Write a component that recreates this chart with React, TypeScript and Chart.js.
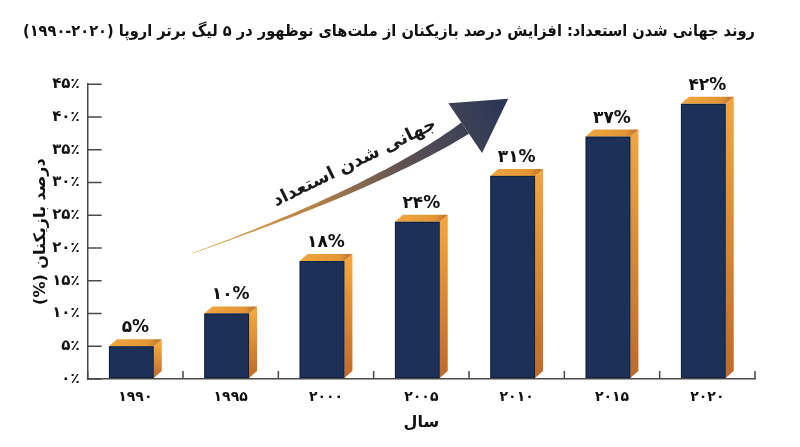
import React, { useEffect, useRef } from 'react';
import { Chart } from 'chart.js/auto';

const years = ['۱۹۹۰', '۱۹۹۵', '۲۰۰۰', '۲۰۰۵', '۲۰۱۰', '۲۰۱۵', '۲۰۲۰'];
const shares = [5, 10, 18, 24, 31, 37, 42];
const shareLabels = ['۵%', '۱۰%', '۱۸%', '۲۴%', '۳۱%', '۳۷%', '۴۲%'];
const yTickLabels = ['۰٪', '۵٪', '۱۰٪', '۱۵٪', '۲۰٪', '۲۵٪', '۳۰٪', '۳۵٪', '۴۰٪', '۴۵٪'];

// LRM marks keep the year range reading left to right inside the RTL title
const titleText = 'روند جهانی شدن استعداد: افزایش درصد بازیکنان از ملت‌های نوظهور در ۵ لیگ برتر اروپا (\u200E۱۹۹۰-۲۰۲۰\u200E)';
const xTitle = 'سال';
const yTitle = 'درصد بازیکنان (%)';
const arrowText = 'جهانی شدن استعداد';

// arrow anchors in data space: [category index, percent]
const arrowTail = [0.6, 19.2];
const arrowBend = [2.56, 29.4];
const arrowHeadBase = [3.46, 38.3];
const arrowLabelAt = [2.3, 33.0];

const FONT = '"DejaVu Sans", sans-serif';
const NAVY = '#1d3057';
const AXIS = '#4a4a4a';

const bar3d = {
    id: 'bar3d',
    afterDatasetsDraw(chart: any) {
        const ctx = chart.ctx;
        const meta = chart.getDatasetMeta(0);
        const depthX = 8;
        const depthY = 7;
        ctx.save();
        meta.data.forEach((bar: any, i: number) => {
            const w = bar.width;
            const left = bar.x - w / 2 - depthX / 2;
            const right = left + w;
            const top = bar.y;
            const base = bar.base - 0.5;

            // side
            const sg = ctx.createLinearGradient(0, top, 0, base);
            sg.addColorStop(0, '#f2a53c');
            sg.addColorStop(1, '#bf6a2a');
            ctx.fillStyle = sg;
            ctx.beginPath();
            ctx.moveTo(right, top);
            ctx.lineTo(right + depthX, top - depthY);
            ctx.lineTo(right + depthX, base - depthY);
            ctx.lineTo(right, base);
            ctx.closePath();
            ctx.fill();

            // top
            const tg = ctx.createLinearGradient(left, 0, right + depthX, 0);
            tg.addColorStop(0, '#f0a73f');
            tg.addColorStop(0.75, '#e39534');
            tg.addColorStop(1, '#b8702e');
            ctx.fillStyle = tg;
            ctx.beginPath();
            ctx.moveTo(left, top);
            ctx.lineTo(left + depthX, top - depthY);
            ctx.lineTo(right + depthX, top - depthY);
            ctx.lineTo(right, top);
            ctx.closePath();
            ctx.fill();

            // front
            ctx.fillStyle = NAVY;
            ctx.fillRect(left, top, w, base - top);
            ctx.strokeStyle = 'rgba(10,20,40,0.6)';
            ctx.lineWidth = 1;
            ctx.strokeRect(left + 0.5, top + 0.5, w - 1, base - top - 1);

            // value label
            ctx.fillStyle = '#111';
            ctx.font = 'bold 17px ' + FONT;
            ctx.textAlign = 'center';
            ctx.textBaseline = 'bottom';
            ctx.fillText(shareLabels[i], bar.x, top - depthY - 3);
        });
        ctx.restore();
    },
};

const axisTicks = {
    id: 'axisTicks',
    afterDraw(chart: any) {
        const ctx = chart.ctx;
        const { x, y } = chart.scales;
        const area = chart.chartArea;
        ctx.save();
        ctx.strokeStyle = AXIS;
        ctx.lineWidth = 1.5;
        ctx.beginPath();
        y.ticks.forEach((t: any) => {
            const py = y.getPixelForValue(t.value);
            ctx.moveTo(area.left, py);
            ctx.lineTo(area.left + 14, py);
        });
        for (let i = 0; i <= years.length; i++) {
            const px = x.getPixelForValue(i - 0.5);
            ctx.moveTo(px, area.bottom);
            ctx.lineTo(px, area.bottom - 8);
        }
        ctx.stroke();
        ctx.restore();
    },
};

const trendArrow = {
    id: 'trendArrow',
    afterDatasetsDraw(chart: any) {
        const ctx = chart.ctx;
        const { x, y } = chart.scales;
        const pt = (p: number[]) => [x.getPixelForValue(p[0]), y.getPixelForValue(p[1])];
        const P0 = pt(arrowTail);
        const P1 = pt(arrowBend);
        const P2 = pt(arrowHeadBase);
        const bez = (t: number) => [
            (1 - t) * (1 - t) * P0[0] + 2 * (1 - t) * t * P1[0] + t * t * P2[0],
            (1 - t) * (1 - t) * P0[1] + 2 * (1 - t) * t * P1[1] + t * t * P2[1],
        ];
        const tan = (t: number) => {
            const dx = 2 * (1 - t) * (P1[0] - P0[0]) + 2 * t * (P2[0] - P1[0]);
            const dy = 2 * (1 - t) * (P1[1] - P0[1]) + 2 * t * (P2[1] - P1[1]);
            const l = Math.hypot(dx, dy);
            return [dx / l, dy / l];
        };
        const upper: number[][] = [];
        const lower: number[][] = [];
        const n = 40;
        for (let k = 0; k <= n; k++) {
            const t = k / n;
            const p = bez(t);
            const d = tan(t);
            const w = (0.5 + 13 * Math.pow(t, 1.3)) / 2;
            upper.push([p[0] + d[1] * w, p[1] - d[0] * w]);
            lower.push([p[0] - d[1] * w, p[1] + d[0] * w]);
        }
        const dEnd = tan(1);
        const headLen = 52;
        const headHalf = 30;
        const tip = [P2[0] + dEnd[0] * headLen, P2[1] + dEnd[1] * headLen];

        const g = ctx.createLinearGradient(P0[0], P0[1], tip[0], tip[1]);
        g.addColorStop(0, '#e8a852');
        g.addColorStop(0.35, '#b98549');
        g.addColorStop(0.65, '#5d5153');
        g.addColorStop(1, '#273557');

        ctx.save();
        ctx.fillStyle = g;
        ctx.beginPath();
        ctx.moveTo(upper[0][0], upper[0][1]);
        upper.forEach((p) => ctx.lineTo(p[0], p[1]));
        for (let k = lower.length - 1; k >= 0; k--) ctx.lineTo(lower[k][0], lower[k][1]);
        ctx.closePath();
        ctx.fill();

        ctx.beginPath();
        ctx.moveTo(P2[0] + dEnd[1] * headHalf, P2[1] - dEnd[0] * headHalf);
        ctx.lineTo(tip[0], tip[1]);
        ctx.lineTo(P2[0] - dEnd[1] * headHalf, P2[1] + dEnd[0] * headHalf);
        ctx.closePath();
        ctx.fill();

        const lp = pt(arrowLabelAt);
        const d = tan(0.6);
        ctx.translate(lp[0], lp[1]);
        ctx.rotate(Math.atan2(d[1], d[0]));
        ctx.fillStyle = '#1a1a1a';
        ctx.font = 'bold 18px ' + FONT;
        ctx.textAlign = 'center';
        ctx.textBaseline = 'middle';
        ctx.fillText(arrowText, 0, 0);
        ctx.restore();
    },
};

const App: React.FC = () => {
    const chartRef = useRef<HTMLCanvasElement>(null);
    const chartInstance = useRef<Chart | null>(null);

    useEffect(() => {
        if (!chartRef.current) return;
        if (chartInstance.current) chartInstance.current.destroy();
        const ctx = chartRef.current.getContext('2d');
        if (!ctx) return;

        chartInstance.current = new Chart(ctx, {
            type: 'bar',
            data: {
                labels: years,
                datasets: [
                    {
                        label: 'درصد',
                        data: shares,
                        backgroundColor: 'rgba(0,0,0,0)',
                        borderWidth: 0,
                        categoryPercentage: 1,
                        barPercentage: 0.47,
                    },
                ],
            },
            options: {
                responsive: true,
                maintainAspectRatio: false,
                animation: false,
                layout: { padding: { left: 23, right: 45, top: 6, bottom: 15 } },
                plugins: {
                    legend: { display: false },
                    tooltip: { enabled: false },
                    title: {
                        display: true,
                        text: titleText,
                        color: '#111',
                        font: { size: 16, weight: 'bold', family: FONT },
                        padding: { top: 16, bottom: 43 },
                    },
                },
                scales: {
                    x: {
                        grid: { drawOnChartArea: false, drawTicks: false },
                        border: { color: AXIS, width: 1.5 },
                        ticks: {
                            color: '#111',
                            padding: 10,
                            font: { size: 14, weight: 'bold', family: FONT },
                        },
                        title: {
                            display: true,
                            text: xTitle,
                            color: '#111',
                            font: { size: 16, weight: 'bold', family: FONT },
                            padding: { top: -3, bottom: 0 },
                        },
                    },
                    y: {
                        min: 0,
                        max: 45,
                        grid: { drawOnChartArea: false, drawTicks: false },
                        border: { color: AXIS, width: 1.5 },
                        ticks: {
                            stepSize: 5,
                            color: '#111',
                            padding: 8,
                            font: { size: 15, weight: 'bold', family: FONT },
                            callback: (_v: any, i: number) => yTickLabels[i],
                        },
                        title: {
                            display: true,
                            text: yTitle,
                            color: '#111',
                            font: { size: 16, weight: 'bold', family: FONT },
                            padding: { top: 8, bottom: -6 },
                        },
                    },
                },
            },
            plugins: [axisTicks, trendArrow, bar3d],
        });

        return () => {
            if (chartInstance.current) {
                chartInstance.current.destroy();
                chartInstance.current = null;
            }
        };
    }, []);

    return (
        <div style={{ position: 'fixed', left: 0, top: 0, width: 800, height: 447, background: '#fff' }}>
            <canvas ref={chartRef} dir="rtl" />
        </div>
    );
};

export default App;
